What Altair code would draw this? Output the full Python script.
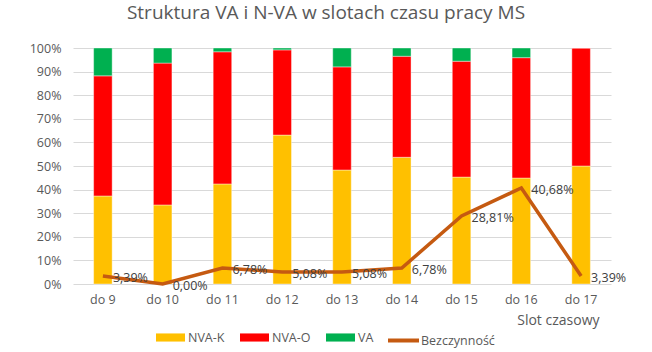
import altair as alt
import pandas as pd

slots = ["do 9", "do 10", "do 11", "do 12", "do 13", "do 14", "do 15", "do 16", "do 17"]
nva_k = [37.3, 33.5, 42.4, 63.1, 48.3, 53.7, 45.3, 44.9, 50.0]
nva_o = [50.9, 60.1, 56.0, 36.1, 43.7, 42.8, 49.1, 51.0, 50.0]
va = [11.8, 6.4, 1.6, 0.8, 8.0, 3.5, 5.6, 4.1, 0.0]
bezczynnosc = [3.39, 0.00, 6.78, 5.08, 5.08, 6.78, 28.81, 40.68, 3.39]
series = ["NVA-K", "NVA-O", "VA"]
colors = ["#FFC000", "#FF0000", "#00B050"]
line_name = "Bezczynność"
line_color = "#C55A11"
y_ticks = [0, 10, 20, 30, 40, 50, 60, 70, 80, 90, 100]

rows = []
for i, s in enumerate(slots):
    for k, (name, vals) in enumerate(zip(series, [nva_k, nva_o, va])):
        rows.append({"slot": s, "series": name, "value": vals[i], "ord": k})
bars_df = pd.DataFrame(rows)
line_df = pd.DataFrame({"slot": slots, "bez": bezczynnosc, "series": [line_name] * len(slots)})

FONT = "Open Sans"
GRAY = "#595959"
FS = 12.5

x_axis = alt.Axis(
    title="Slot czasowy", labelAngle=0, ticks=False, domain=False, grid=False,
    labelPadding=9, labelFontSize=FS, labelColor=GRAY, labelFont=FONT,
    titleFont=FONT, titleFontSize=14, titleFontWeight="normal", titleColor=GRAY,
    titleX=526, titleY=36, titleAlign="right", titleBaseline="middle",
)
x_scale = alt.Scale(paddingInner=0.69, paddingOuter=0.345)
y_axis = alt.Axis(
    title=None, values=y_ticks, tickCount=11, labelExpr="datum.value + '%'",
    labelOverlap=False,
    grid=True, gridColor="#D9D9D9", gridWidth=1, domain=False, ticks=False,
    labelPadding=12, labelFontSize=FS, labelColor=GRAY, labelFont=FONT,
)
y_scale = alt.Scale(domain=[0, 100], nice=False)

bars = alt.Chart(bars_df).mark_bar(stroke="#ffffff", strokeWidth=0.8, strokeOpacity=0.5).encode(
    x=alt.X("slot:N", sort=slots, scale=x_scale, axis=x_axis),
    y=alt.Y("value:Q", stack="zero", scale=y_scale, axis=y_axis),
    color=alt.Color(
        "series:N",
        scale=alt.Scale(domain=series, range=colors),
        legend=alt.Legend(
            title=None, orient="none", legendX=83, legendY=275, direction="horizontal",
            symbolType="M-1,-0.28L1,-0.28L1,0.28L-1,0.28Z", symbolSize=841,
            symbolStrokeWidth=0, labelFontSize=FS, labelColor=GRAY, labelFont=FONT,
            columnPadding=15, labelOffset=3,
        ),
    ),
    order=alt.Order("ord:Q"),
)

line = alt.Chart(line_df).mark_line(strokeWidth=3.5).encode(
    x=alt.X("slot:N", sort=slots, scale=x_scale, axis=x_axis),
    y=alt.Y("bez:Q", scale=y_scale, axis=y_axis),
    stroke=alt.Stroke(
        "series:N",
        scale=alt.Scale(domain=[line_name], range=[line_color]),
        legend=alt.Legend(
            title=None, orient="none", legendX=313, legendY=275, direction="horizontal",
            symbolType="stroke", symbolSize=961, symbolStrokeWidth=4,
            labelFontSize=FS, labelColor=GRAY, labelFont=FONT, labelOffset=0,
        ),
    ),
)

labels = alt.Chart(line_df).transform_calculate(
    lab="replace(format(datum.bez / 100, '.2%'), '.', ',')"
).mark_text(align="left", baseline="middle", dx=10, dy=2, fontSize=FS, font=FONT, color="#404040").encode(
    x=alt.X("slot:N", sort=slots, scale=x_scale, axis=x_axis),
    y=alt.Y("bez:Q", scale=y_scale, axis=y_axis),
    text="lab:N",
)

chart = alt.layer(bars, line, labels).properties(
    width=538, height=236,
    autosize="none",
    padding={"left": 73, "top": 48, "right": 41, "bottom": 68},
    title=alt.TitleParams(
        "Struktura VA i N-VA w slotach czasu pracy MS",
        fontSize=19, font=FONT, color=GRAY, fontWeight="normal",
        anchor="middle", dx=-16, offset=19,
    ),
).configure_view(stroke=None)

chart.save("out.html", embed_options={"renderer": "svg", "actions": False})
